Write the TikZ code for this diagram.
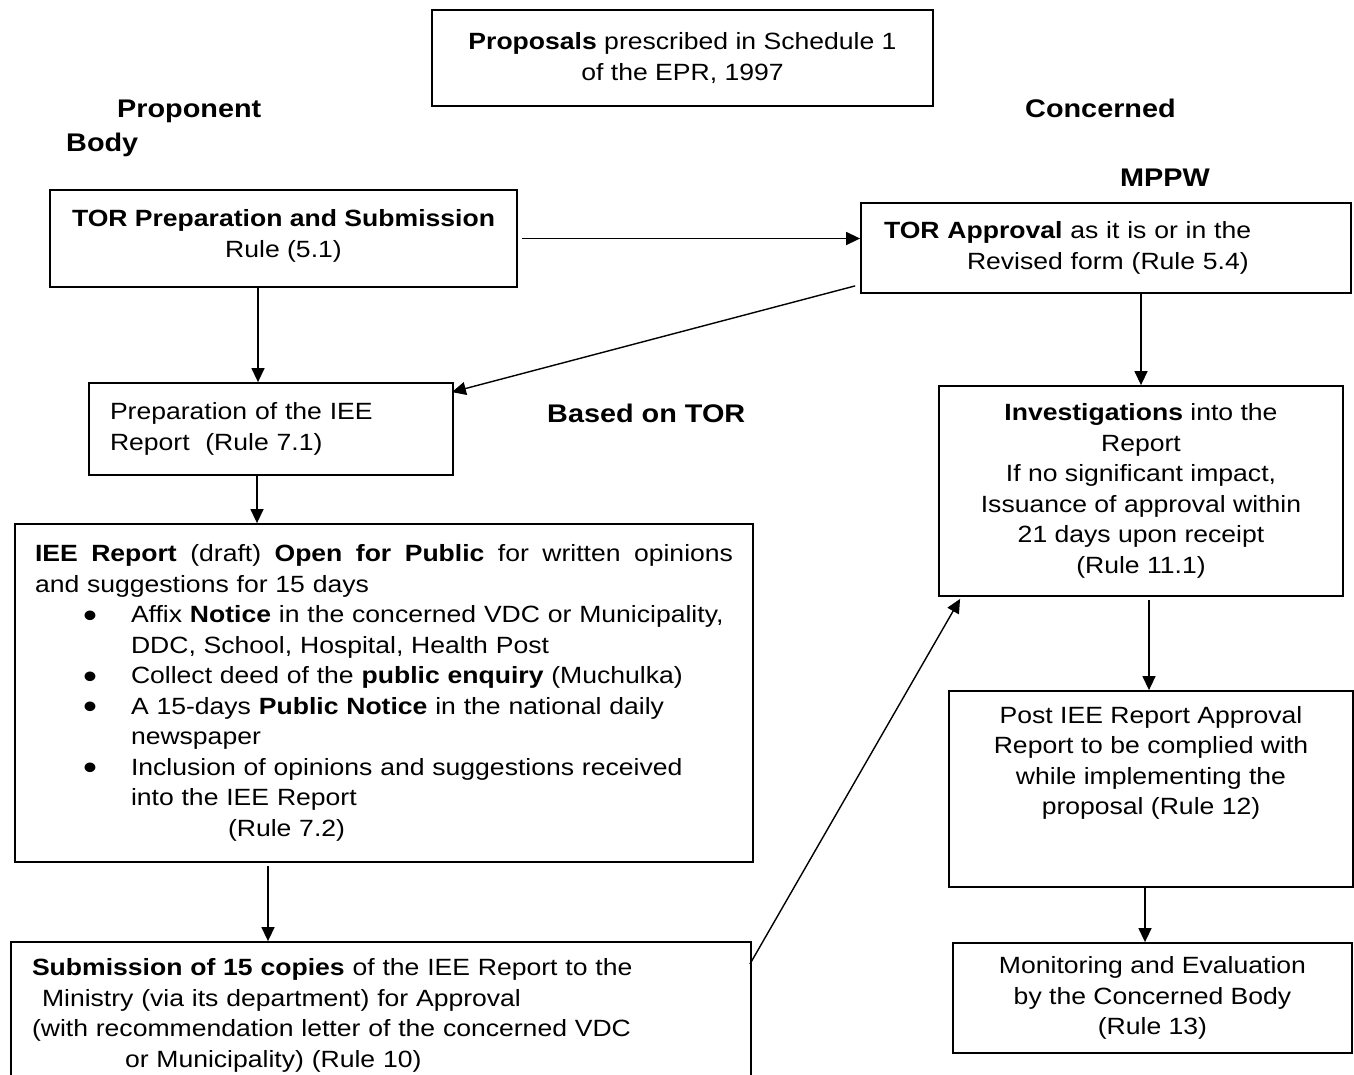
\documentclass[tikz,border=0pt]{standalone}
\usepackage{fontspec}
\setmainfont{Liberation Sans}[FakeStretch=1.13]
\usetikzlibrary{arrows.meta,positioning,calc}

\newcommand{\bodyfont}{\fontsize{23.5}{30.5}\selectfont}
\newcommand{\headfont}{\fontsize{25.5}{31}\selectfont\bfseries}
\newcommand{\blt}{\hspace*{48pt}\makebox[48pt][l]{\smash{\raisebox{-4.5pt}{\scalebox{1.5}{\textbullet}}}}}
\newcommand{\bind}{\hspace*{96pt}}

\begin{document}
\begin{tikzpicture}[
  x=1pt,y=-1pt,
  box/.style={draw,line width=1.8pt,inner sep=0pt,align=center,font=\bodyfont},
  txt/.style={inner sep=0pt,align=center,font=\bodyfont},
  head/.style={inner sep=0pt,anchor=base west,font=\headfont},
  arr/.style={-{Triangle[length=14pt,width=13pt]},line width=1.4pt}
]
\useasboundingbox (0,0) rectangle (1354,1074);
\clip (0,0) rectangle (1354,1074);
% ---------- headings ----------
\node[box,minimum width=501pt,minimum height=96pt] (prop) at (682.5,58)
  {\textbf{Proposals} prescribed in Schedule 1\\of the EPR, 1997};
\node[head] (propo) at (117,117) {Proponent};
\node[head] (pbody) at (66,151) {Body};
\node[head] (conc) at (1025,117) {Concerned};
\node[head] (mppw) at (1120,186) {MPPW};
\node[head] (based) at (547,422) {Based on TOR};
% ---------- left column: proponent ----------
\node[box,minimum width=467pt,minimum height=97pt] (torprep) at (283.5,238.5)
  {\textbf{TOR Preparation and Submission}\\Rule (5.1)\\[-20pt]};
\node[box,minimum width=364pt,minimum height=92pt,text width=322pt,align=left] (ieeprep) at (271,429)
  {Preparation of the IEE\\Report\ \ (Rule 7.1)};
\node[box,minimum width=738pt,minimum height=338pt,text width=698pt,align=left] (ieedraft) at (384,693)
  {\makebox[698pt][l]{\textbf{IEE}\hfill\textbf{Report}\hfill(draft)\hfill\textbf{Open}\hfill\textbf{for}\hfill\textbf{Public}\hfill for\hfill written\hfill opinions}\\
   and suggestions for 15 days\\
   \blt\mbox{Affix \textbf{Notice} in the concerned VDC or Municipality,}\\
   \bind\mbox{DDC, School, Hospital, Health Post}\\
   \blt\mbox{Collect deed of the \textbf{public enquiry} (Muchulka)}\\
   \blt\mbox{A 15-days \textbf{Public Notice} in the national daily}\\
   \bind newspaper\\
   \blt\mbox{Inclusion of opinions and suggestions received}\\
   \bind\mbox{into the IEE Report}\\
   \hspace*{193pt}(Rule 7.2)};
\node[box,minimum width=740pt,minimum height=147pt,text width=698pt,align=left] (submit) at (381,1015.5)
  {\mbox{\textbf{Submission of 15 copies} of the IEE Report to the}\\
   \hspace*{10pt}\mbox{Ministry (via its department) for Approval}\\
   \mbox{(with recommendation letter of the concerned VDC}\\
   \hspace*{93pt}\mbox{or Municipality) (Rule 10)}};
% ---------- right column: MPPW ----------
\node[box,minimum width=490pt,minimum height=90pt,text width=444pt,align=left] (torappr) at (1106,248)
  {\textbf{TOR Approval} as it is or in the\\\hspace*{83pt}Revised form (Rule 5.4)};
\node[box,minimum width=404pt,minimum height=210pt] (invest) at (1141,491)
  {\textbf{Investigations} into the\\Report\\If no significant impact,\\Issuance of approval within\\21 days upon receipt\\(Rule 11.1)};
\node[box,minimum width=404pt,minimum height=196pt] (post) at (1151,789) {};
\node[txt] (posttxt) at (1151,763)
  {Post IEE Report Approval\\Report to be complied with\\while implementing the\\proposal (Rule 12)};
\node[box,minimum width=399pt,minimum height=110pt] (monitor) at (1152.5,998)
  {Monitoring and Evaluation\\by the Concerned Body\\(Rule 13)};
% ---------- connectors ----------
\draw[arr,shorten <=4pt] (torprep.east) -- (torprep.east -| torappr.west);
\draw[arr] ([xshift=-5pt,yshift=8pt]torappr.south west) -- ([xshift=-2pt,yshift=-10pt]ieeprep.north east);
\draw[arr] ([xshift=-25.5pt]torprep.south) -- ([xshift=-13pt]ieeprep.north);
\draw[arr] (invest.north |- torappr.south) -- (invest.north);
\draw[arr] ([xshift=-14pt]ieeprep.south) -- ([xshift=-14pt]ieeprep.south |- ieedraft.north);
\draw[arr,shorten <=3pt] ([xshift=-116pt]ieedraft.south) -- ([xshift=-116pt]ieedraft.south |- submit.north);
\draw[arr] ([xshift=-2pt,yshift=-23pt]submit.north east) -- ([xshift=22pt,yshift=-2pt]invest.south west);
\draw[arr,shorten <=3pt] ([xshift=8pt]invest.south) -- ([xshift=8pt]invest.south |- post.north);
\draw[arr] ([xshift=-6pt]post.south) -- ([xshift=-6pt]post.south |- monitor.north);
\end{tikzpicture}
\end{document}
